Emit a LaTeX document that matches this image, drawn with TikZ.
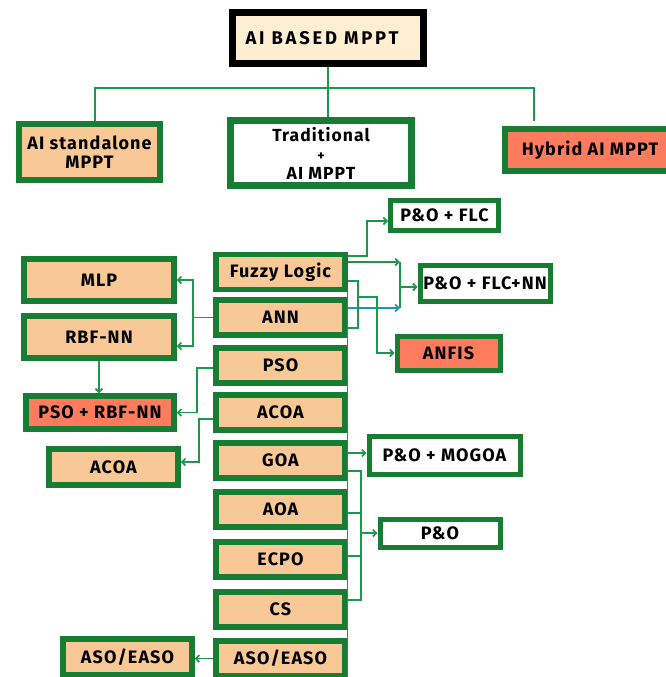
\documentclass[tikz,border=0pt]{standalone}
\usepackage{fontspec}
\setmainfont{Fira Sans}[LetterSpace=6]
\newfontfamily\headfont{Fira Sans}[LetterSpace=15]
\usetikzlibrary{arrows.meta,positioning,calc}

\definecolor{boxgreen}{RGB}{22,125,50}
\definecolor{linegreen}{RGB}{30,150,75}
\definecolor{annteal}{RGB}{25,155,165}
\definecolor{peach}{RGB}{248,201,150}
\definecolor{salmon}{RGB}{255,123,94}
\definecolor{cream}{RGB}{255,239,210}

\begin{document}
\begin{tikzpicture}[x=1pt,y=-1pt,
  box/.style={draw=boxgreen,line width=5.5pt,fill=peach,inner sep=0pt,outer sep=auto,
              align=center,font=\fontsize{18}{19.5}\selectfont\bfseries},
  conn/.style={draw=linegreen,line width=1.6pt},
  arr/.style={conn,-{Straight Barb[length=3.5pt,width=7pt]}}
]
  \useasboundingbox (0,0) rectangle (665,677);
  % Top level
  \node[box,draw=black,line width=7pt,fill=cream,minimum width=191pt,minimum height=51pt,
        font=\headfont\fontsize{18.4}{20}\selectfont\bfseries] (top) at (328,38) {AI BASED MPPT\hspace*{12pt}};
  \node[box,line width=6.5pt,minimum width=141pt,minimum height=56pt] (stand) at (89.5,152) {AI standalone\\MPPT};
  \node[box,fill=white,line width=7pt,minimum width=181pt,minimum height=65pt,
        font=\fontsize{17.5}{19}\selectfont\bfseries] (trad) at (321,153)
        {Traditional\\{\fontsize{14}{14}\selectfont +}\\AI MPPT};
  \node[box,fill=salmon,line width=6.5pt,minimum width=170pt,minimum height=42pt] (hyb) at (590,150) {Hybrid AI MPPT};
  \coordinate (hybleg) at (534,121);
  % Tree
  \draw[conn] (top.south) -- (top.south |- trad.north);
  \draw[conn] ([xshift=5.5pt]stand.north) |- (top.south |- 0,88) -| (hybleg);
  % Middle column
  \node[box,minimum width=129pt,minimum height=35pt] (fuzzy) at (280.5,272)   {Fuzzy Logic};
  \node[box,minimum width=129pt,minimum height=35pt] (ann)   at (280.5,317.5) {ANN};
  \node[box,minimum width=129pt,minimum height=35pt] (pso)   at (280.5,365.5) {PSO};
  \node[box,minimum width=129pt,minimum height=35pt] (acoa)  at (280.5,412.5) {ACOA};
  \node[box,minimum width=129pt,minimum height=35pt] (goa)   at (280.5,460.5) {GOA};
  \node[box,minimum width=129pt,minimum height=35pt] (aoa)   at (280.5,509.5) {AOA};
  \node[box,minimum width=129pt,minimum height=35pt] (ecpo)  at (280.5,559.5) {ECPO};
  \node[box,minimum width=129pt,minimum height=35pt] (cs)    at (280.5,609.5) {CS};
  \node[box,minimum width=129pt,minimum height=35pt] (aso)   at (280.5,658.5) {ASO/EASO};
  \draw[conn,line width=1.2pt] (fuzzy.south east) -- (aso.south east);
  % Left side
  \node[box,minimum width=150pt,minimum height=42pt] (mlp)    at (99,280)    {MLP};
  \node[box,minimum width=150pt,minimum height=42pt] (rbf)    at (99,337)    {RBF-NN};
  \node[box,fill=salmon,minimum width=148pt,minimum height=33pt] (psorbf) at (100,412.5) {PSO + RBF-NN};
  \node[box,minimum width=129pt,minimum height=36pt] (acoal)  at (113.5,467) {ACOA};
  \node[box,minimum width=129pt,minimum height=36pt] (asol)   at (127.5,657) {ASO/EASO};
  % Right side
  \node[box,fill=white,line width=5pt,minimum width=108pt,minimum height=30pt] (pofl)    at (444.5,215.5) {P\&O + FLC};
  \node[box,fill=white,line width=5pt,minimum width=130pt,minimum height=36pt] (poflnn)  at (485,283)     {P\&O + FLC+NN};
  \node[box,fill=salmon,line width=5pt,minimum width=103pt,minimum height=34pt] (anfis)  at (448.5,353)   {ANFIS};
  \node[box,fill=white,line width=5pt,minimum width=151pt,minimum height=38pt] (pomogoa) at (444.5,455)   {P\&O + MOGOA};
  \node[box,fill=white,line width=5pt,minimum width=120pt,minimum height=28pt] (po)      at (440,533)     {P\&O};
  % ANN branches
  \draw[arr] (ann.west) -- ++(-20,0) |- (mlp.east);
  \draw[arr] (ann.west) -- ++(-20,0) |- ([yshift=-9pt]rbf.east);
  \draw[arr] (rbf.south) -- (rbf.south |- psorbf.north);
  \draw[arr] ([yshift=-2.5pt]pso.west) -- ++(-16,0) |- (psorbf.east);
  \draw[arr] ([yshift=-6.5pt]acoa.west) -- ++(-14,0) |- ([yshift=5pt]acoal.east);
  \draw[arr] (aso.west) -- (aso.west -| asol.east);
  % Fuzzy logic branches
  \draw[arr] ([yshift=16pt]fuzzy.east) -- ++(19,0) |- ([yshift=-5.5pt]pofl.west);
  \draw[arr] ([yshift=10pt]fuzzy.east) -- ++(52,0) coordinate (nnt);
  \draw[arr,annteal] ([yshift=9.5pt]ann.east) -- ++(52,0) coordinate (nnb);
  \coordinate (nnin) at ([yshift=-4pt]poflnn.west);
  \draw[conn] (nnt) -- (nnb);
  \draw[arr] (nnt |- nnin) -- (nnin);
  \draw[conn] ([yshift=-9pt]fuzzy.east) -- ++(10,0) coordinate (fl) |- ([yshift=-10.5pt]ann.east);
  \draw[arr] (fl |- ann.north) -- ++(19,0) |- (anfis.west);
  % GOA branches
  \draw[arr] ([yshift=7.5pt]goa.east) -- ([yshift=7.5pt]goa.east -| pomogoa.west);
  \draw[conn] ([yshift=-10.5pt]goa.east) -- ++(13,0) coordinate (sp) |- ([yshift=9.5pt]cs.east);
  \draw[conn] ([yshift=-3.5pt]aoa.east) -- ++(13,0);
  \draw[conn] ([yshift=3.5pt]ecpo.east) -- ++(13,0);
  \draw[arr] (sp |- po.west) -- (po.west);
\end{tikzpicture}
\end{document}
